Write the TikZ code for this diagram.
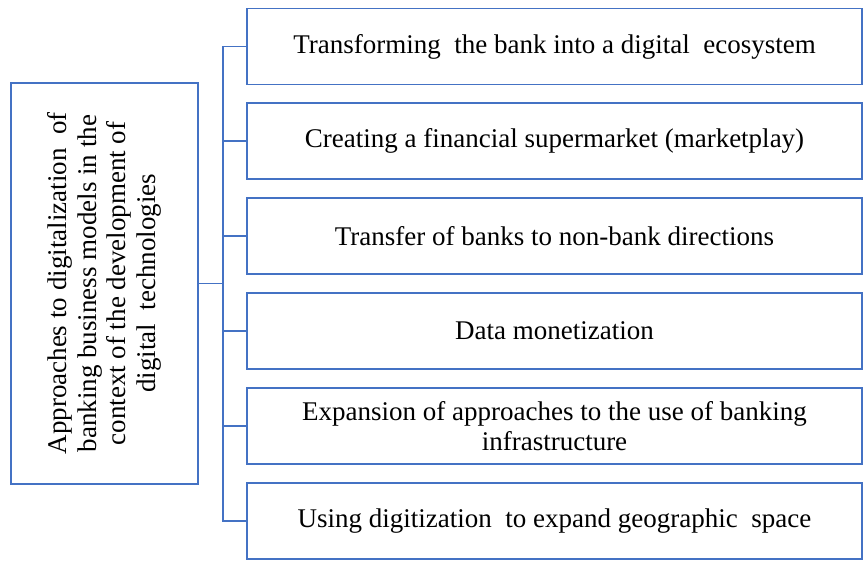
\documentclass[tikz,border=0pt]{standalone}
\usepackage{fontspec}
\setmainfont{Liberation Serif}
\usetikzlibrary{positioning}
\definecolor{boxblue}{HTML}{4472C4}

\tikzset{
  topic/.style={draw=boxblue, line width=1.6pt, minimum width=615pt, minimum height=76pt,
    inner sep=0pt, align=center, font=\fontsize{27}{30}\selectfont},
  root/.style={draw=boxblue, line width=1.6pt, rotate=90, minimum width=401pt,
    minimum height=187pt, inner sep=0pt, align=center, font=\fontsize{27}{29.5}\selectfont},
  link/.style={draw=boxblue, line width=1.6pt}
}

\begin{document}
\begin{tikzpicture}[x=1pt,y=-1pt]
\useasboundingbox (0,0) rectangle (865,562);

% Main box on the left
\node[root] (approach) at (104.5,283.5) {Approaches to digitalization\ \ of\\ banking business models in the\\ context of the development of\\ digital\ \ technologies};

% Boxes on the right
\node[topic] (t1) at (554.5,46.5) {Transforming\ \ the bank into a digital\ \ ecosystem};
\node[topic] (t2) at (554.5,141) {Creating a financial supermarket (marketplay)};
\node[topic] (t3) at (554.5,236) {Transfer of banks to non-bank directions};
\node[topic] (t4) at (554.5,331) {Data monetization};
\node[topic] (t5) at (554.5,426) {Expansion of approaches to the use of banking\\ infrastructure};
\node[topic] (t6) at (554.5,521) {Using digitization\ \ to expand geographic\ \ space};

% Draw connectors
\coordinate (hub) at (223,283.5);
\draw[link] (approach.south) -- (hub);
\foreach \i in {1,...,6}
  \draw[link] (hub) |- (t\i.west);

\end{tikzpicture}
\end{document}
